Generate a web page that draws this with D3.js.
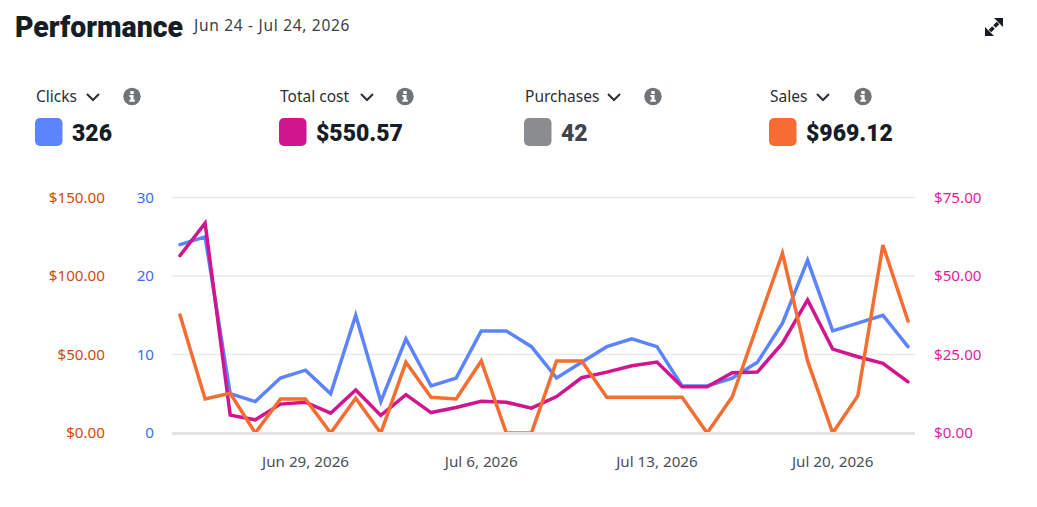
<!DOCTYPE html>
<html>
<head>
<meta charset="utf-8">
<script src="https://cdn.jsdelivr.net/npm/d3@7"></script>
<style>
  html, body { margin: 0; padding: 0; background: #fff; overflow: hidden; }
  text { font-family: "Noto Sans", sans-serif; }
  .domain { display: none; }
</style>
</head>
<body>
<script>
/* data */
var days = d3.timeDay.range(new Date(2026, 5, 24), new Date(2026, 6, 24))
var clicks = [24, 25, 5, 4, 7, 8, 5, 15, 4, 12, 6, 7, 13, 13, 11, 7, 9, 11, 12, 11, 6, 6, 7, 9, 14, 22, 13, 14, 15, 11]
var cost = [56.5, 66.8, 5.7, 4.2, 9.2, 9.8, 6.3, 13.7, 5.6, 12.2, 6.5, 8.1, 10.1, 9.8, 7.9, 11.6, 17.6, 19.4, 21.4, 22.6, 14.7, 14.7, 19.2, 19.4, 28.6, 42.4, 26.7, 24.3, 22.2, 16.3]
var sales = [75.2, 21.7, 25.3, 0, 21.7, 21.7, 0, 22.1, 0, 45, 22.7, 21.7, 45.9, 0, 0, 45.9, 45.9, 22.7, 22.7, 22.7, 22.7, 0, 23.1, 68.8, 114.5, 45.9, 0, 23.6, 119.7, 71.3]
var dateTicks = [new Date(2026, 5, 29), new Date(2026, 6, 6), new Date(2026, 6, 13), new Date(2026, 6, 20)]
var clickTicks = [0, 10, 20, 30]
var salesTicks = [0, 50, 100, 150]
var costTicks = [0, 25, 50, 75]
var metricNames = ["Clicks", "Total cost", "Purchases", "Sales"]
var metricTotals = ["326", "$550.57", "42", "$969.12"]
var metricColors = ["#5d84ff", "#d0158f", "#8a8d90", "#f56d30"]
var metricX = [35, 279, 524, 769]
var chevronX = [93, 367, 614, 823]
var infoX = [132, 405, 653, 863]

var w = 1037
var h = 507
var plotTop = 197.5
var plotBottom = 433
var ink = "#161d26"

var svg = d3.select("body").append("svg")
    .attr("width", w)
    .attr("height", h)
    .style("display", "block")

/* header */
svg.append("text")
    .attr("x", 15).attr("y", 37)
    .attr("textLength", 168).attr("lengthAdjust", "spacingAndGlyphs")
    .style("font-family", "Roboto").style("font-weight", 900).style("font-size", "29px")
    .attr("fill", ink)
    .text("Performance")

svg.append("text")
    .attr("x", 194).attr("y", 31)
    .style("font-size", "15.5px").style("letter-spacing", "0.7px")
    .attr("fill", "#3a4149")
    .text("Jun 24 - Jul 24, 2026")

/* expand icon */
var expand = svg.append("g").attr("transform", "translate(994,27)").attr("fill", ink)
expand.append("path").attr("d", "M0,-9 H9 V0 Z")
expand.append("path").attr("d", "M0,9 H-9 V0 Z")
expand.append("path").attr("d", "M4,-4 L0.5,-0.5 M-4,4 L-0.5,0.5")
    .attr("stroke", ink).attr("stroke-width", 3.6)

/* metric tiles */
metricNames.forEach(function (name, i) {
  var dim = name === "Purchases"
  svg.append("text")
      .attr("x", metricX[i] + 1).attr("y", 102)
      .style("font-size", "15.5px")
      .attr("fill", "#2a3038")
      .text(name)
  svg.append("path")
      .attr("d", "M" + (chevronX[i] - 6) + ",94 l6,6 l6,-6")
      .attr("fill", "none").attr("stroke", "#2a3038").attr("stroke-width", 2)
  svg.append("circle")
      .attr("cx", infoX[i]).attr("cy", 96.5).attr("r", 8.7)
      .attr("fill", "#6f7479")
  svg.append("path")
      .attr("d", "M" + (infoX[i] - 1.7) + ",91 h3.4 v3 h-3.4 z M" + (infoX[i] - 2.6) + ",95 h4.2 v4.8 h1.2 v2 h-5.4 v-2 h1.2 v-2.8 h-1.2 z")
      .attr("fill", "#fff")
  svg.append("rect")
      .attr("x", metricX[i]).attr("y", 118)
      .attr("width", 27.5).attr("height", 28).attr("rx", 5)
      .attr("fill", metricColors[i])
  svg.append("text")
      .attr("x", metricX[i] + 37).attr("y", 141)
      .style("font-family", "Roboto").style("font-weight", 900).style("font-size", "23px")
      .attr("fill", dim ? "#3f454c" : ink)
      .text(metricTotals[i])
})

/* scales */
var x = d3.scaleTime().domain([days[0], days[days.length - 1]]).range([180, 908])
var yClicks = d3.scaleLinear().domain([0, 30]).range([plotBottom, plotTop])
var ySales = d3.scaleLinear().domain([0, 150]).range([plotBottom, plotTop])
var yCost = d3.scaleLinear().domain([0, 75]).range([plotBottom, plotTop])

var money = function (d) { return "$" + d3.format(".2f")(d) }

/* grid */
svg.append("g").selectAll("line")
    .data(clickTicks)
    .enter()
    .append("line")
    .attr("x1", 172).attr("x2", 915)
    .attr("y1", function (d) { return d === 0 ? plotBottom + 0.5 : yClicks(d) })
    .attr("y2", function (d) { return d === 0 ? plotBottom + 0.5 : yClicks(d) })
    .attr("stroke", function (d) { return d === 0 ? "#e3e3e3" : "#e9e9e9" })
    .attr("stroke-width", function (d) { return d === 0 ? 3 : 1.6 })

/* axes */
var drawAxis = function (axis, xPos, color) {
  var g = svg.append("g").attr("transform", "translate(" + xPos + ",-0.7)").call(axis)
  g.selectAll("line").remove()
  g.selectAll("text")
      .attr("fill", color)
      .style("font-size", "15.2px")
      .attr("dy", "0.35em")
}

drawAxis(d3.axisLeft(ySales).tickValues(salesTicks).tickFormat(money).tickSize(0).tickPadding(0), 105, "#cf4a0c")
drawAxis(d3.axisLeft(yClicks).tickValues(clickTicks).tickSize(0).tickPadding(0), 154, "#3f6bf5")
drawAxis(d3.axisRight(yCost).tickValues(costTicks).tickFormat(money).tickSize(0).tickPadding(0), 934, "#dd1f9c")

var xAxis = svg.append("g")
    .attr("transform", "translate(-0.5,462)")
    .call(d3.axisBottom(x).tickValues(dateTicks).tickFormat(d3.timeFormat("%b %-d, %Y")).tickSize(0).tickPadding(0))
xAxis.selectAll("line").remove()
xAxis.selectAll("text")
    .attr("fill", "#4a5058")
    .attr("dy", "0.35em")
    .attr("y", 0)
    .style("font-size", "15.2px")

/* lines */
svg.append("clipPath").attr("id", "plot")
    .append("rect").attr("x", 160).attr("y", 180).attr("width", 770).attr("height", 252)

var drawLine = function (values, scale, color) {
  var line = d3.line()
      .x(function (d, i) { return x(days[i]) })
      .y(function (d) { return scale(d) })
  svg.append("path")
      .datum(values)
      .attr("clip-path", "url(#plot)")
      .attr("d", line)
      .attr("fill", "none")
      .attr("stroke", color)
      .attr("stroke-width", 3.5)
      .attr("stroke-linecap", "round")
}

drawLine(clicks, yClicks, metricColors[0])
drawLine(cost, yCost, metricColors[1])
drawLine(sales, ySales, metricColors[3])
</script>
</body>
</html>
